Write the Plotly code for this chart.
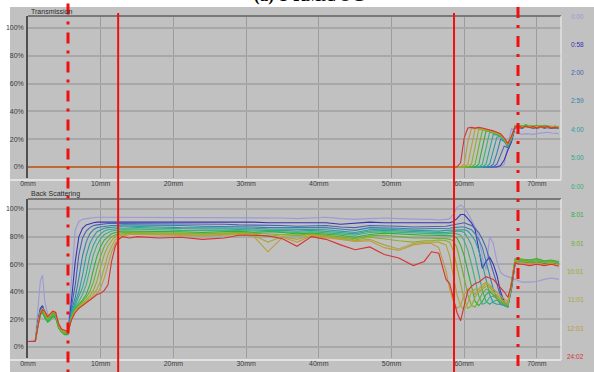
import plotly.graph_objects as go

# ---------------------------------------------------------------- data
TIME_LABELS = ["0:00", "0:58", "2:00", "2:59", "4:00", "5:00", "6:00",
               "8:01", "9:01", "10:01", "11:01", "12:03", "24:02"]
SERIES_COLORS = ["#9a9ad6", "#3434b8", "#4662b4", "#3282ac", "#2c9ca2", "#30a88e",
                 "#3ab27a", "#30b03c", "#6cb02c", "#92ae26", "#aaa63a", "#bc9c3c", "#d83232"]

X_TICKS = [0, 10, 20, 30, 40, 50, 60, 70]
X_TICK_TEXT = ["0mm", "10mm", "20mm", "30mm", "40mm", "50mm", "60mm", "70mm"]
Y_TICKS = [0, 20, 40, 60, 80, 100]
Y_TICK_TEXT = ["0%", "20%", "40%", "60%", "80%", "100%"]

# sample positions (mm) of the transmission profiles
T_POS = [0, 59.0, 59.5, 60.0, 60.5, 61.0, 61.5, 62.0, 62.5, 63.0, 63.5, 64.0, 64.5, 65.0,
         65.5, 66.0, 66.5, 67.0, 67.5, 68.0, 68.5, 69.0, 69.5, 70.0, 70.5, 71.0, 71.5,
         72.0, 72.5, 73.0]

T_0000 = [0, 0, 0, 0, 0, 0, 0, 0, 0, 0, 0, 0, 0, 0, 2, 15, 28, 25,
          24, 23.5, 24, 23.5, 23.5, 24, 24.5, 24.5, 25, 24.5, 24, 24]
T_0058 = [0, 0, 0, 0, 0, 0, 0, 0, 0, 0, 0, 0, 0, 1, 5, 12, 18, 28.5,
          28.5, 28, 29, 28.5, 28, 28.5, 29, 28, 28.5, 28, 28.5, 28]
T_0200 = [0, 0, 0, 0, 0, 0, 0, 0, 0, 0, 0, 0, 2, 9, 15, 14, 19, 29,
          29, 28.5, 29, 28.5, 29, 28, 28.5, 29, 28.5, 28, 28.5, 28]
T_0259 = [0, 0, 0, 0, 0, 0, 0, 0, 0, 0, 0, 2, 10, 20, 18.5, 14.5, 20, 29.5,
          29, 29.5, 28.5, 29, 28.5, 29, 28.5, 28.5, 29, 28.5, 28, 28.5]
T_0400 = [0, 0, 0, 0, 0, 0, 0, 0, 0, 0, 2, 11, 21.5, 22, 19, 15, 20, 29,
          29.5, 29, 28.5, 29.5, 28.5, 29, 29, 28.5, 29, 28.5, 29, 28]
T_0500 = [0, 0, 0, 0, 0, 0, 0, 0, 0, 2, 12, 23.5, 23, 22, 19, 15, 20.5, 29,
          29, 29.5, 29, 28.5, 29.5, 28.5, 29, 29.5, 28.5, 29, 28.5, 28.5]
T_0600 = [0, 0, 0, 0, 0, 0, 0, 0, 2, 13, 25, 24.5, 23.5, 22.5, 19.5, 15.5, 21, 29,
          29.5, 29, 30, 28.5, 29, 29, 28.5, 29.5, 29, 28.5, 29, 28.5]
T_0801 = [0, 0, 0, 0, 0, 0, 0, 2, 14, 26, 25.5, 24.5, 23.5, 22.5, 19.5, 15.5, 21, 29.5,
          30, 29.5, 30.5, 29, 29.5, 30, 29, 30, 29.5, 29, 29.5, 29]
T_0901 = [0, 0, 0, 0, 0, 0, 2, 15, 26.5, 26.5, 26, 25, 24, 23, 20, 16, 21.5, 30,
          29.5, 30, 29, 30, 29, 29.5, 30, 29, 29.5, 29, 29, 28.5]
T_1001 = [0, 0, 0, 0, 0, 2, 15, 27, 27, 26.5, 26, 25, 24, 23, 20, 16, 21, 29.5,
          29.5, 29, 29.5, 29, 30, 29, 29.5, 29, 29, 29.5, 28.5, 29]
T_1101 = [0, 0, 0, 0, 2, 16, 27.5, 28, 27.5, 27, 26.5, 25.5, 24.5, 23.5, 20.5, 16.5, 21.5, 29,
          29, 29.5, 29, 29.5, 28.5, 29, 29.5, 28.5, 29, 28.5, 29, 28.5]
T_1203 = [0, 0, 0, 2, 18, 27.5, 28, 28, 27.5, 27, 26.5, 25.5, 24.5, 23.5, 20.5, 16.5, 22, 29.5,
          29, 29, 28.5, 29.5, 28.5, 29, 28.5, 29.5, 28.5, 29, 28.5, 28.5]
T_2402 = [0, 0, 3, 21, 28, 28.5, 28, 28.5, 28, 27.5, 27, 26, 25, 24, 21, 17, 22, 29,
          29.5, 28.5, 29.5, 28.5, 29, 28, 29, 28.5, 29, 28, 28.5, 28]

# sample positions (mm) of the back-scattering profiles
BS_POS = ([0, 1.0, 1.4, 1.7, 2.0, 2.3, 2.7, 3.0, 3.4, 3.8, 4.2, 4.6, 5.0, 5.5]
          + [6.0, 6.5, 7.0, 7.5, 8.0, 8.5, 9.0, 9.5, 10.0, 10.5, 11.0, 11.5, 12.0, 12.5, 13.0, 14.0]
          + [15, 18, 21, 24, 27, 29, 31, 33, 35, 37, 39, 41, 43, 45, 47, 49, 51, 53, 54.5]
          + [55.5, 56.5, 57.5, 58, 58.5, 59, 59.5, 60, 60.5, 61, 61.5, 62, 62.5, 63, 63.5,
             64, 64.5, 65, 65.5, 66, 66.5, 67]
          + [67.5, 68, 69, 70, 71, 72, 73])

BS_0000 = ([4, 5, 30, 48, 52, 33, 24, 23, 24, 23, 16, 12, 11, 11]
           + [50, 85, 91, 92.5, 93, 93.5, 93.5, 94, 94, 94, 94, 94, 94, 93.5, 94, 94]
           + [93.5, 94, 94, 94, 93.5, 94, 94, 93.5, 93.5, 93, 93.5, 94, 93, 92.5, 93, 93.5, 93, 92.5, 92.5]
           + [92.5, 92, 92.5, 93, 96, 101, 103, 101, 97, 92, 87, 80, 65, 56, 80, 75, 62, 54, 52, 51, 50, 49]
           + [48, 47, 47, 47.5, 49, 50, 49])
BS_0058 = ([4, 4, 20, 28, 30, 25, 22, 22, 25, 24, 16, 12, 10, 10]
           + [35, 62, 80, 86, 88.5, 89.5, 90, 90.5, 90.5, 91, 91, 91, 91, 91, 91, 91]
           + [91, 91, 91, 90.5, 91, 90.5, 90.5, 90, 90, 89.5, 90, 90, 89, 89.5, 90.5, 90, 90, 89.5, 89.5]
           + [89.5, 89.5, 90, 90, 91, 93, 96, 96, 93, 90, 85, 70, 57, 62, 65, 60, 52, 40, 33, 31, 44, 62]
           + [61, 61.5, 60.5, 61, 60.5, 61, 60])
BS_0200 = ([4, 4, 19, 27, 29, 25, 21, 22, 24, 23, 15, 11, 10, 10]
           + [30, 45, 67, 79, 84, 86.5, 88, 88.5, 89, 89.5, 89.5, 89.5, 89.5, 89.5, 89.5, 89.5]
           + [89.5, 89.5, 89, 89, 89, 88.5, 88.5, 88, 88, 87.5, 88, 88, 87, 86.5, 88, 88, 87.5, 87, 87]
           + [87, 87, 87.5, 88, 88.5, 89, 90, 90, 89, 88, 86, 83, 78, 72, 63, 54, 45, 37, 32, 30, 42, 60]
           + [61.5, 62, 61, 61.5, 61, 61.5, 60.5])
BS_0259 = ([4, 4, 18, 26, 28, 24, 21, 21, 24, 23, 15, 11, 10, 10]
           + [27, 36, 50, 66, 76, 82, 85, 86.5, 87, 87.5, 88, 88, 88, 88.5, 88.5, 88.5]
           + [88.5, 88, 88, 87.5, 87.5, 87, 87, 86.5, 86.5, 86, 86.5, 86.5, 85.5, 84.5, 86.5, 86.5, 86, 85.5, 85.5]
           + [85.5, 85.5, 86, 86, 86.5, 87, 87, 87, 86, 85, 82, 78, 72, 62, 52, 42, 35, 31, 30, 29, 42, 61]
           + [62, 62, 61.5, 62, 61, 61.5, 61])
BS_0400 = ([4, 4, 18, 25, 27, 23, 20, 21, 23, 22, 15, 11, 10, 10]
           + [25, 32, 40, 52, 66, 75, 80, 83.5, 85, 86, 86.5, 87, 87, 87, 87.5, 87.5]
           + [87.5, 87, 86.5, 86.5, 86.5, 86, 86, 85.5, 85.5, 85, 85.5, 85, 84, 83, 85, 85.5, 85, 84.5, 84]
           + [84, 84, 84.5, 84.5, 85, 85, 85, 85, 84, 81, 77, 70, 60, 48, 38, 32, 31, 31, 30, 29, 43, 61]
           + [62, 62.5, 62, 62, 61.5, 62, 61])
BS_0500 = ([4, 4, 17, 24, 26, 22, 19, 20, 22, 22, 14, 11, 10, 10]
           + [24, 30, 36, 43, 53, 66, 74, 79, 82, 84, 85, 85.5, 86, 86, 86, 86.5]
           + [86.5, 86, 85.5, 85.5, 85.5, 85, 85, 84.5, 84.5, 84, 84.5, 84, 83, 82, 84, 84.5, 84, 83.5, 83]
           + [83, 83, 83, 83.5, 83.5, 84, 84, 83, 79, 74, 65, 53, 41, 33, 31, 33, 34, 32, 31, 30, 44, 62]
           + [62.5, 63, 62, 62.5, 62, 62, 61.5])
BS_0600 = ([4, 4, 17, 24, 26, 22, 19, 20, 23, 22, 15, 11, 10, 10]
           + [23, 29, 33, 38, 45, 56, 67, 74, 78.5, 81.5, 83, 84, 84.5, 85, 85, 85.5]
           + [85.5, 85, 84.5, 84.5, 84.5, 84.5, 84, 84, 83.5, 83, 83.5, 83, 82, 81, 83, 83.5, 83, 82.5, 82]
           + [82, 82, 82, 82.5, 82.5, 82, 81, 77, 70, 60, 48, 37, 31, 32, 36, 37, 35, 33, 31, 30, 46, 63]
           + [63, 63, 62.5, 63, 62, 62.5, 61.5])
BS_0801 = ([4, 4, 16, 23, 25, 21, 18, 19, 22, 21, 14, 11, 9, 9]
           + [22, 28, 31, 34, 38, 45, 56, 66, 73, 77.5, 80, 82, 83, 83.5, 84, 84]
           + [84, 83.5, 83.5, 83, 83.5, 84, 83, 83.5, 83, 82, 82.5, 82, 81, 79.5, 81.5, 82.5, 82, 81, 81]
           + [81, 81, 81, 81, 80.5, 79, 74, 66, 55, 43, 33, 30, 33, 38, 40, 38, 35, 33, 31, 30, 48, 64]
           + [64, 63.5, 63, 64, 62.5, 63, 62])
BS_0901 = ([4, 4, 17, 24, 27, 23, 20, 21, 24, 23, 15, 11, 10, 10]
           + [22, 27, 30, 33, 36, 40, 47, 57, 66, 73, 77, 80, 81.5, 82.5, 83, 83]
           + [83, 83, 82.5, 82, 82.5, 83, 82.5, 82, 82, 81, 82, 81, 80, 78.5, 80.5, 81, 80, 79, 79]
           + [79, 79, 78.5, 78, 77, 72, 62, 50, 38, 30, 29, 34, 39, 42, 41, 38, 35, 33, 31, 30, 47, 63]
           + [63.5, 63.5, 62.5, 63.5, 62, 62.5, 61.5])
BS_1001 = ([4, 4, 18, 25, 28, 24, 21, 22, 25, 24, 16, 12, 11, 10]
           + [21, 27, 29, 32, 34, 37, 41, 48, 58, 67, 73, 77, 80, 81.5, 82, 82.5]
           + [82.5, 82, 82, 81.5, 82, 82.5, 82, 80, 81.5, 80.5, 81.5, 80.5, 79, 77.5, 79.5, 78, 77, 76, 77]
           + [77, 77.5, 77, 76, 70, 58, 45, 34, 28, 30, 36, 40, 42, 44, 43, 40, 37, 34, 32, 31, 46, 63]
           + [62.5, 62, 61.5, 62, 61, 61.5, 60.5])
BS_1101 = ([4, 4, 17, 25, 28, 25, 22, 23, 26, 25, 17, 12, 11, 11]
           + [21, 26, 29, 31, 33, 35, 38, 42, 48, 58, 67, 73, 77.5, 80, 81.5, 82]
           + [82, 81.5, 81.5, 81, 81.5, 82, 81, 76, 80, 78, 81, 80, 78.5, 77, 78, 74, 71, 75, 76]
           + [76, 76, 74, 66, 52, 38, 30, 27, 32, 40, 42, 40, 43, 46, 44, 40, 38, 35, 33, 31, 45, 62]
           + [61.5, 61, 60.5, 61, 60, 60.5, 59.5])
BS_1203 = ([4, 4, 17, 24, 27, 25, 22, 23, 26, 25, 17, 13, 12, 11]
           + [20, 26, 28, 30, 32, 34, 36, 39, 43, 50, 60, 69, 75, 78.5, 80.5, 81.5]
           + [81.5, 81, 81, 80.5, 81, 81.5, 80.5, 69, 79.5, 76, 80.5, 79.5, 78, 76.5, 77, 72, 70, 74, 75]
           + [75, 72, 55, 42, 33, 28, 30, 38, 42, 40, 38, 42, 45, 47, 45, 42, 40, 37, 35, 33, 45, 61]
           + [61, 60.5, 60, 60.5, 59.5, 60, 59])
BS_2402 = ([4, 4, 16, 24, 27, 26, 22, 24, 26, 25, 17, 13, 12, 11]
           + [20, 25, 28, 30, 32, 34, 36, 38, 39, 41, 45, 62, 73, 78, 80, 79]
           + [80, 79, 79.5, 78, 79, 81, 81, 80.5, 78.5, 73, 80, 78, 74, 70.5, 72.5, 67, 64.5, 59, 62]
           + [69, 68, 49, 46, 35, 25, 19, 30, 41, 44, 46, 47, 49, 51, 50, 49, 46, 43, 40, 36, 45, 61]
           + [60, 60, 59, 60, 59, 60, 58.5])

# reference positions (mm) of the red markers
MARK_DASHDOT = [5.5, 67.4]
MARK_SOLID = [12.4, 58.6]

T_SERIES = [T_0000, T_0058, T_0200, T_0259, T_0400, T_0500, T_0600,
            T_0801, T_0901, T_1001, T_1101, T_1203, T_2402]
BS_SERIES = [BS_0000, BS_0058, BS_0200, BS_0259, BS_0400, BS_0500, BS_0600,
             BS_0801, BS_0901, BS_1001, BS_1101, BS_1203, BS_2402]
for s in T_SERIES:
    assert len(s) == len(T_POS), len(s)
for s in BS_SERIES:
    assert len(s) == len(BS_POS), len(s)

# ---------------------------------------------------------------- geometry
W, H = 594, 372
ML, MR, MT, MB = 28, 33, 16, 14
PW, PH = W - ML - MR, H - MT - MB


def fx(px):
    return (px - ML) / PW


def fy(py):
    return (H - MB - py) / PH


X_RANGE = [0, (W - MR - ML) / 7.27]


def y_range(top_px, bottom_px, y100_px, y0_px):
    per = (y0_px - y100_px) / 100.0
    return [-(bottom_px - y0_px) / per, 100 + (y100_px - top_px) / per]


TOP_PANEL = (16, 178)
BOT_PANEL = (199, 358)

PLOT_BG = "#c8c8c8"
FRAME_BG = "#c1c1c1"
GRID_V = "#9c9c9c"
GRID_H = "#a8a8a8"
TEXT = "#3c3c3c"
FONT = "Arial"

fig = go.Figure()

for i, (ys, col) in enumerate(zip(T_SERIES, SERIES_COLORS)):
    fig.add_trace(go.Scatter(x=T_POS, y=ys, mode="lines", xaxis="x", yaxis="y",
                             line=dict(color=col, width=1.1), showlegend=False,
                             name=TIME_LABELS[i]))
for i, (ys, col) in enumerate(zip(BS_SERIES, SERIES_COLORS)):
    fig.add_trace(go.Scatter(x=BS_POS, y=ys, mode="lines", xaxis="x2", yaxis="y2",
                             line=dict(color=col, width=1.1), showlegend=False,
                             name=TIME_LABELS[i]))

xax = dict(range=X_RANGE, tickvals=X_TICKS, ticktext=X_TICK_TEXT, showgrid=True,
           gridcolor=GRID_V, gridwidth=1, zeroline=False, showline=False, ticks="",
           automargin=False,
           tickfont=dict(family=FONT, size=7, color=TEXT), fixedrange=True)
yax = dict(tickvals=Y_TICKS, ticktext=Y_TICK_TEXT, showgrid=True, gridcolor=GRID_H,
           gridwidth=1.5, zeroline=False, showline=True, linecolor="#505050",
           linewidth=1.5, ticks="", ticklabelstandoff=1, automargin=False,
           tickfont=dict(family=FONT, size=7, color=TEXT), fixedrange=True)

shapes = [
    dict(type="rect", xref="paper", yref="paper", x0=fx(10), x1=fx(W + 2),
         y0=fy(H + 2), y1=fy(7), fillcolor=FRAME_BG, line=dict(width=0), layer="below"),
]
for top, bot in (TOP_PANEL, BOT_PANEL):
    # panel frame: dark top edge, light right and bottom edges
    shapes.append(dict(type="line", xref="paper", yref="paper", x0=fx(ML), x1=fx(W - MR),
                       y0=fy(top), y1=fy(top), line=dict(color="#787878", width=2)))
    shapes.append(dict(type="line", xref="paper", yref="paper", x0=fx(W - MR), x1=fx(W - MR),
                       y0=fy(top), y1=fy(bot + 2), line=dict(color="#f2f2f2", width=1)))
    shapes.append(dict(type="line", xref="paper", yref="paper", x0=fx(10), x1=fx(W - MR),
                       y0=fy(bot + 2), y1=fy(bot + 2), line=dict(color="#e2e2e2", width=2)))

for xm, y_top in zip(MARK_DASHDOT, (3.5, 7)):
    shapes.append(dict(type="line", xref="x", yref="paper", x0=xm, x1=xm,
                       y0=fy(y_top), y1=fy(H + 2), layer="above",
                       line=dict(color="#f01010", width=3, dash="11px,7px,3px,8px")))
for xm in MARK_SOLID:
    shapes.append(dict(type="line", xref="x", yref="paper", x0=xm, x1=xm,
                       y0=fy(13), y1=fy(H + 2), layer="above",
                       line=dict(color="#f01010", width=2)))

annotations = [
    dict(text="<b>(a) T-RMX/OG</b>", xref="paper", yref="paper", x=fx(309), y=fy(-4.2),
         xanchor="center", yanchor="middle", showarrow=False,
         font=dict(family="Liberation Serif", size=17, color="#000000")),
    dict(text="Transmission", xref="paper", yref="paper", x=fx(29), y=fy(11.5),
         xanchor="left", yanchor="middle", showarrow=False,
         font=dict(family=FONT, size=7, color="#2a2a2a")),
    dict(text="Back Scattering", xref="paper", yref="paper", x=fx(29), y=fy(194),
         xanchor="left", yanchor="middle", showarrow=False,
         font=dict(family=FONT, size=7, color="#2a2a2a")),
]
LABEL_ROWS = [16, 44.5, 73, 101, 129, 157.5, 186, 214, 243, 271, 299.5, 328, 356]
for lab, col, py in zip(TIME_LABELS, SERIES_COLORS, LABEL_ROWS):
    annotations.append(dict(text=lab, xref="paper", yref="paper", x=fx(586), y=fy(py),
                            xanchor="right", yanchor="middle", showarrow=False,
                            font=dict(family=FONT, size=6.5, color=col)))

fig.update_layout(
    template="none",
    width=W, height=H,
    margin=dict(l=ML, r=MR, t=MT, b=MB, pad=0, autoexpand=False),
    paper_bgcolor="#ffffff", plot_bgcolor=PLOT_BG,
    showlegend=False,
    xaxis=dict(xax, anchor="y", domain=[0, 1]),
    xaxis2=dict(xax, anchor="y2", domain=[0, 1], matches="x"),
    yaxis=dict(yax, anchor="x", domain=[fy(TOP_PANEL[1]), fy(TOP_PANEL[0])],
               range=y_range(TOP_PANEL[0], TOP_PANEL[1], 28, 167)),
    yaxis2=dict(yax, anchor="x2", domain=[fy(BOT_PANEL[1]), fy(BOT_PANEL[0])],
                range=y_range(BOT_PANEL[0], BOT_PANEL[1], 209, 347)),
    shapes=shapes,
    annotations=annotations,
)

fig.write_html("out.html")
